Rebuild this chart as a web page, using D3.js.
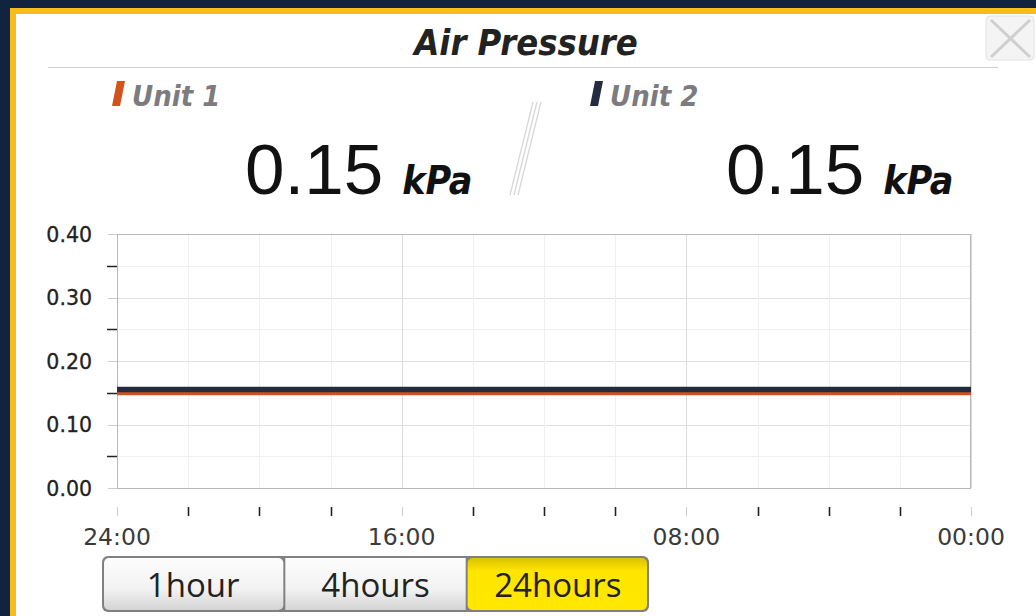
<!DOCTYPE html>
<html><head><meta charset="utf-8">
<script src="https://cdn.jsdelivr.net/npm/d3@7"></script>
<style>body{margin:0;background:#12233f;}svg{display:block;}</style>
</head><body>
<svg id="c" width="1036" height="616"></svg>
<script>
const title = "Air Pressure";
const seriesNames = ["Unit 1", "Unit 2"];
const seriesColors = ["#d4521f", "#262c40"];
const currentValues = ["0.15", "0.15"];
const unit = "kPa";
const hoursAgo = [24, 22, 20, 18, 16, 14, 12, 10, 8, 6, 4, 2, 0];
const xTickLabels = ["24:00", "", "", "", "16:00", "", "", "", "08:00", "", "", "", "00:00"];
const unit1Values = [0.15, 0.15, 0.15, 0.15, 0.15, 0.15, 0.15, 0.15, 0.15, 0.15, 0.15, 0.15, 0.15];
const unit2Values = [0.155, 0.155, 0.155, 0.155, 0.155, 0.155, 0.155, 0.155, 0.155, 0.155, 0.155, 0.155, 0.155];
const yMajorTicks = [0, 0.1, 0.2, 0.3, 0.4];
const yMinorTicks = [0.05, 0.15, 0.25, 0.35];
const rangeButtons = ["1hour", "4hours", "24hours"];
const activeRange = "24hours";

const COND = "'DejaVu Sans Condensed', 'DejaVu Sans', sans-serif";
const svg = d3.select("#c");
// frame
svg.append("rect").attr("x",10).attr("y",8).attr("width",1030).attr("height",612).attr("fill","#fbbb1c");
svg.append("rect").attr("x",16).attr("y",14).attr("width",1024).attr("height",606).attr("fill","#ffffff");

// title
svg.append("text").attr("x",526).attr("y",55).attr("text-anchor","middle")
  .attr("font-family",COND).attr("font-weight","bold").attr("font-style","italic")
  .attr("font-size",36).attr("fill","#222").text(title);
svg.append("line").attr("x1",48).attr("x2",998).attr("y1",67.5).attr("y2",67.5).attr("stroke","#cfcfcf").attr("stroke-width",1.2);
// close box
const cb = svg.append("g");
cb.append("rect").attr("x",986).attr("y",16).attr("width",48).attr("height",44).attr("rx",4).attr("fill","#f4f4f4").attr("stroke","#e2e2e2");
cb.append("line").attr("x1",991).attr("y1",20).attr("x2",1030).attr("y2",57).attr("stroke","#cfcfcf").attr("stroke-width",3);
cb.append("line").attr("x1",1030).attr("y1",20).attr("x2",991).attr("y2",57).attr("stroke","#cfcfcf").attr("stroke-width",3);

// legends & values
const legX = [112, 590];
const valX = [245, 726];
seriesNames.forEach((n,i)=>{
  svg.append("path").attr("d",`M${legX[i]+5},81 L${legX[i]+13},81 L${legX[i]+8},106 L${legX[i]},106 Z`).attr("fill",seriesColors[i]);
  svg.append("text").attr("x",legX[i]+20).attr("y",106).attr("font-family",COND)
    .attr("font-weight","bold").attr("font-style","italic").attr("font-size",29).attr("fill","#7b7b80").text(n);
  const t = svg.append("text").attr("x",valX[i]).attr("y",194).attr("font-family","Liberation Sans, Arial, sans-serif");
  t.append("tspan").attr("font-size",71).attr("fill","#111").text(currentValues[i]);
  t.append("tspan").attr("dx",19).attr("font-size",39).attr("font-weight","bold").attr("font-style","italic")
    .attr("font-family",COND).attr("fill","#111").text(unit);
});
// separator slashes
[0,4,8].forEach(d=>{
  svg.append("line").attr("x1",533+d).attr("y1",102).attr("x2",510+d).attr("y2",195).attr("stroke","#d8d8d8").attr("stroke-width",1.3);
});

// chart
const x = d3.scaleLinear().domain([24,0]).range([117,971]);
const y = d3.scaleLinear().domain([0,0.4]).range([488,234]);
const g = svg.append("g");
// minor grid
g.selectAll(".mg").data(yMinorTicks).join("line").attr("x1",117).attr("x2",971)
  .attr("y1",d=>Math.round(y(d))+0.5).attr("y2",d=>Math.round(y(d))+0.5).attr("stroke","#f0f0f0");
g.selectAll(".Mg").data(yMajorTicks).join("line").attr("x1",117).attr("x2",971)
  .attr("y1",d=>Math.round(y(d))+0.5).attr("y2",d=>Math.round(y(d))+0.5).attr("stroke","#e0e0e0");
g.selectAll(".vg").data(hoursAgo).join("line")
  .attr("x1",d=>Math.round(x(d))+0.5).attr("x2",d=>Math.round(x(d))+0.5).attr("y1",234).attr("y2",488)
  .attr("stroke",(d,i)=>xTickLabels[i]?"#dcdcdc":"#f0f0f0");
// frame
g.append("rect").attr("x",117.5).attr("y",234.5).attr("width",853).attr("height",254).attr("fill","none").attr("stroke","#b8b8b8");

// y axis ticks
g.selectAll(".ymt").data(yMinorTicks).join("line").attr("x1",107).attr("x2",117)
  .attr("y1",d=>Math.round(y(d))+0.5).attr("y2",d=>Math.round(y(d))+0.5).attr("stroke","#222").attr("stroke-width",1.5);
g.selectAll(".yMt").data(yMajorTicks).join("line").attr("x1",108).attr("x2",117)
  .attr("y1",d=>Math.round(y(d))+0.5).attr("y2",d=>Math.round(y(d))+0.5).attr("stroke","#ccc");
g.selectAll(".yl").data(yMajorTicks).join("text").attr("x",92).attr("y",d=>y(d)+7.5).attr("text-anchor","end")
  .attr("font-family","DejaVu Sans, sans-serif").attr("font-size",20.5).attr("fill","#222")
  .attr("stroke","#222").attr("stroke-width",0.3).text(d=>d.toFixed(2));

// x axis ticks
g.selectAll(".xt").data(hoursAgo).join("line")
  .attr("x1",d=>Math.round(x(d))+0.5).attr("x2",d=>Math.round(x(d))+0.5).attr("y1",507).attr("y2",516)
  .attr("stroke",(d,i)=>xTickLabels[i]?"#ccc":"#222").attr("stroke-width",(d,i)=>xTickLabels[i]?1:1.6);
g.selectAll(".xl").data(hoursAgo).join("text").attr("x",d=>x(d)).attr("y",545).attr("text-anchor","middle")
  .attr("font-family","DejaVu Sans, sans-serif").attr("font-size",23.5).attr("fill","#3a3a3a").text((d,i)=>xTickLabels[i]);

// lines
const line = d3.line().x((d,i)=>x(hoursAgo[i])).y(d=>y(d));
g.append("path").datum(unit1Values).attr("d",line).attr("fill","none").attr("stroke",seriesColors[0]).attr("stroke-width",5);
g.append("path").datum(unit2Values).attr("d",line).attr("fill","none").attr("stroke",seriesColors[1]).attr("stroke-width",5.5);

// buttons
const defs = svg.append("defs");
const gr1 = defs.append("linearGradient").attr("id","gw").attr("x1",0).attr("x2",0).attr("y1",0).attr("y2",1);
gr1.append("stop").attr("offset","0").attr("stop-color","#fdfdfd");
gr1.append("stop").attr("offset","0.6").attr("stop-color","#f2f2f2");
gr1.append("stop").attr("offset","1").attr("stop-color","#d4d4d4");
const gr2 = defs.append("linearGradient").attr("id","gy").attr("x1",0).attr("x2",0).attr("y1",0).attr("y2",1);
gr2.append("stop").attr("offset","0").attr("stop-color","#d9c200");
gr2.append("stop").attr("offset","0.25").attr("stop-color","#ffe500");
gr2.append("stop").attr("offset","1").attr("stop-color","#ffe800");
const bx = d3.scaleBand().domain(rangeButtons).range([102,649]);
svg.append("rect").attr("x",102).attr("y",556).attr("width",547).attr("height",56).attr("rx",6).attr("fill","#808080");
rangeButtons.forEach((b,i)=>{
  const x0 = bx(b)+(i===0?2:1), w = bx.bandwidth()-(i===0?3:(i===2?3:2));
  svg.append("rect").attr("x",x0).attr("y",558).attr("width",w).attr("height",52).attr("rx",i===1?0:5)
    .attr("fill",b===activeRange?"url(#gy)":"url(#gw)");
  svg.append("text").attr("x",bx(b)+bx.bandwidth()/2).attr("y",597).attr("text-anchor","middle")
    .attr("font-family","Open Sans, sans-serif").attr("font-size",33).attr("fill","#222").text(b);
});
</script>
</body></html>
